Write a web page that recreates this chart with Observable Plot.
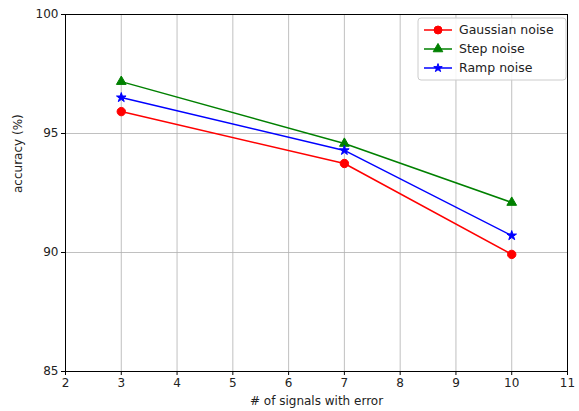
<!DOCTYPE html>
<html>
<head>
<meta charset="utf-8">
<script src="https://cdn.jsdelivr.net/npm/d3@7"></script>
<script src="https://cdn.jsdelivr.net/npm/@observablehq/plot@0.6"></script>
<style>
  html, body { margin: 0; padding: 0; background: #fff; }
  #chart svg { display: block; }
</style>
</head>
<body>
<div id="chart"></div>
<script>
const xValues = [3, 7, 10];
const gaussian = [95.92, 93.74, 89.92];
const step = [97.18, 94.58, 92.10];
const ramp = [96.51, 94.29, 90.71];
const seriesNames = ["Gaussian noise", "Step noise", "Ramp noise"];
const seriesColors = ["#ff0000", "#008000", "#0000ff"];
const seriesSymbols = ["circle", "triangle", "star"];
const xTicks = [2, 3, 4, 5, 6, 7, 8, 9, 10, 11];
const yTicks = [85, 90, 95, 100];

const seriesValues = [gaussian, step, ramp];
const data = [];
seriesNames.forEach((name, i) => {
  xValues.forEach((x, j) => data.push({series: name, x, y: seriesValues[i][j]}));
});

const font = "DejaVu Sans, sans-serif";
const W = 579, H = 411;
const symR = {circle: 4.2, triangle: 3.6, star: 3.0};

const marks = [
  Plot.gridX(xTicks, {stroke: "#b0b0b0", strokeOpacity: 1, strokeWidth: 0.8}),
  Plot.gridY(yTicks, {stroke: "#b0b0b0", strokeOpacity: 1, strokeWidth: 0.8}),
  Plot.axisX(xTicks, {tickSize: 4, tickPadding: 3, fontSize: 12, label: null, stroke: "#000", color: "#222"}),
  Plot.axisY(yTicks, {tickSize: 4, tickPadding: 3, fontSize: 12, label: null, stroke: "#000", color: "#222"}),
  Plot.text(["# of signals with error"], {frameAnchor: "bottom", dy: 33, fontSize: 12, fill: "#222"}),
  Plot.text(["accuracy (%)"], {frameAnchor: "left", dx: -47, rotate: -90, fontSize: 12, fill: "#222"})
];
seriesNames.forEach((name, i) => {
  const d = data.filter(r => r.series === name);
  marks.push(Plot.line(d, {x: "x", y: "y", stroke: seriesColors[i], strokeWidth: 1.5}));
  marks.push(Plot.dot(d, {x: "x", y: "y", fill: seriesColors[i], stroke: seriesColors[i], strokeWidth: 1, symbol: seriesSymbols[i], r: symR[seriesSymbols[i]]}));
});
marks.push(Plot.frame({stroke: "#000", strokeWidth: 1}));

const chart = Plot.plot({
  width: W,
  height: H,
  marginLeft: 65,
  marginRight: 12,
  marginTop: 14,
  marginBottom: 40,
  style: {fontFamily: font, fontSize: "12px", background: "#fff"},
  x: {domain: [2, 11], label: null},
  y: {domain: [85, 100], label: null},
  marks
});
document.getElementById("chart").appendChild(chart);

// legend inside the plot area (top right)
const svg = d3.select(chart);
const lg = svg.append("g").attr("transform", "translate(418,18)");
lg.append("rect").attr("width", 148).attr("height", 62).attr("rx", 3)
  .attr("fill", "#fff").attr("fill-opacity", 0.85).attr("stroke", "#cccccc");
const sym = {circle: d3.symbolCircle, triangle: d3.symbolTriangle, star: d3.symbolStar};
const symSize = {circle: 50, triangle: 40, star: 22};
seriesNames.forEach((name, i) => {
  const y = 12 + i * 19;
  lg.append("line").attr("x1", 6).attr("x2", 34).attr("y1", y).attr("y2", y)
    .attr("stroke", seriesColors[i]).attr("stroke-width", 1.5);
  lg.append("path").attr("transform", `translate(20,${y})`)
    .attr("d", d3.symbol(sym[seriesSymbols[i]], symSize[seriesSymbols[i]])())
    .attr("fill", seriesColors[i]).attr("stroke", seriesColors[i]);
  lg.append("text").attr("x", 41).attr("y", y).attr("dy", "0.35em")
    .attr("text-anchor", "start")
    .attr("font-family", font).attr("font-size", 12.5).attr("fill", "#222").text(name);
});
</script>
</body>
</html>
